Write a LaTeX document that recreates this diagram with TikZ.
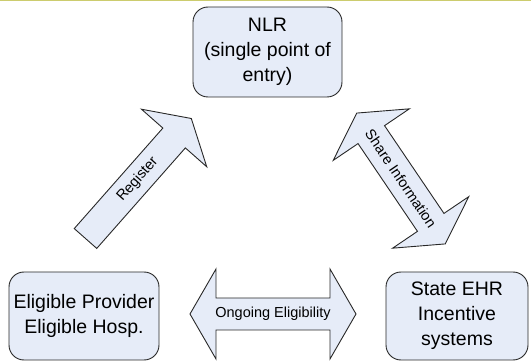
\documentclass[tikz,border=0pt]{standalone}
\usepackage{fontspec}
\setmainfont{Liberation Sans}
\definecolor{boxfill}{RGB}{230,236,248}
\definecolor{boxline}{RGB}{40,40,40}
\definecolor{topline}{RGB}{204,204,110}
\newcommand{\bigtxt}{\fontsize{19.5}{25}\selectfont}
\newcommand{\smalltxt}{\fontsize{14.5}{17}\selectfont}
\begin{document}
\begin{tikzpicture}[x=1pt,y=1pt,
  roundbox/.style={draw=boxline, fill=boxfill, rounded corners=15pt, line width=0.9pt,
    align=center, inner sep=0pt, font=\bigtxt, text=black},
  blockarrow/.style={draw=boxline, fill=boxfill, line width=0.9pt, line join=miter},
  arrowlabel/.style={font=\smalltxt, inner sep=0pt, text=black}]
\useasboundingbox (0,0) rectangle (531,362);
\draw[topline, line width=1.5pt] (0,361.3) -- (531,361.3);
% boxes
\node[roundbox, minimum width=149pt, minimum height=90pt] (nlr) at (267.5,310) {NLR\\(single point of\\entry)};
\node[roundbox, minimum width=150pt, minimum height=88pt] (prov) at (84,46) {Eligible Provider\\Eligible Hosp.};
\node[roundbox, minimum width=142pt, minimum height=88pt] (state) at (457,46) {State EHR\\Incentive\\systems};
% Register arrow
\begin{scope}[shift={(85.5,123.5)}, rotate=48.6]
  \draw[blockarrow] (0,-15) -- (134,-15) -- (134,-43.5) -- (160,0) -- (134,43.5) -- (134,15) -- (0,15) -- cycle;
  \node[arrowlabel, rotate=48.6] (reg) at (79,0) {Register};
\end{scope}
% Share Information arrow
\begin{scope}[shift={(401,183.5)}, rotate=-55.9]
  \draw[blockarrow] (-53,16) -- (53,16) -- (53,46) -- (79,0) -- (53,-46) -- (53,-16) -- (-53,-16) -- (-53,-46) -- (-79,0) -- (-53,46) -- cycle;
  \node[arrowlabel, rotate=-55.9] (share) at (0,0) {Share Information};
\end{scope}
% Ongoing Eligibility arrow
\begin{scope}[shift={(273,48)}]
  \draw[blockarrow] (-57,16) -- (57,16) -- (57,45) -- (83,0) -- (57,-45) -- (57,-16) -- (-57,-16) -- (-57,-45) -- (-83,0) -- (-57,45) -- cycle;
  \node[arrowlabel] (ongo) at (0,0) {Ongoing Eligibility};
\end{scope}
\end{tikzpicture}
\end{document}
